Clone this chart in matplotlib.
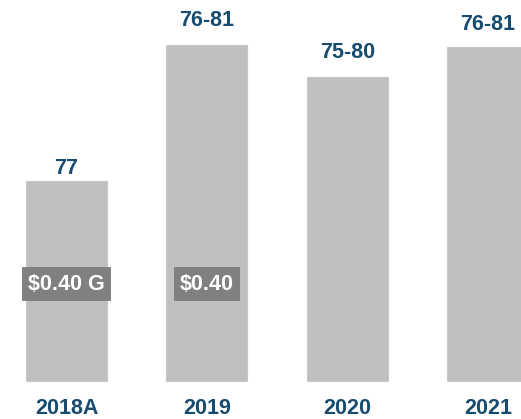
import matplotlib
matplotlib.use("Agg")
import matplotlib.pyplot as plt

# Data
categories = ["2018A", "2019", "2020", "2021"]
bar_heights = [200, 336, 304, 334]          # relative bar heights (as drawn)
top_labels = ["77", "76-81", "75-80", "76-81"]
box_labels = ["\\$0.40 G", "\\$0.40", None, None]
box_level = 97                               # vertical position of the grey tags

bar_color = "#BFBFBF"
label_color = "#174B70"
box_color = "#808080"

plt.rcParams["font.family"] = ["Liberation Sans", "DejaVu Sans"]

fig = plt.figure(figsize=(5.21, 4.19), dpi=100)
ax = fig.add_axes([0, 0, 1, 1])
ax.set_axis_off()

x = list(range(len(categories)))
ax.bar(x, bar_heights, width=0.5765, color=bar_color, edgecolor="#C8C8C8", linewidth=0.8)

ax.set_xlim(-0.4733, 3.235)
ax.set_ylim(-38, 381)

label_offsets = [13, 25, 25, 23]
for xi, h, lab, off in zip(x, bar_heights, top_labels, label_offsets):
    ax.annotate(lab, (xi, h), xytext=(0, off * 0.72), textcoords="offset points",
                ha="center", va="center", fontsize=15.5, fontweight="bold",
                color=label_color)

for xi, cat in zip(x, categories):
    ax.text(xi, -27, cat, ha="center", va="center", fontsize=15.5,
            fontweight="bold", color=label_color)

for xi, bl in zip(x, box_labels):
    if bl is None:
        continue
    ax.text(xi, box_level, bl, ha="center", va="center", fontsize=15.5,
            fontweight="bold", color="white",
            bbox=dict(boxstyle="square,pad=0.3", facecolor=box_color, edgecolor="none"))

fig.savefig("out.png", dpi=100)
